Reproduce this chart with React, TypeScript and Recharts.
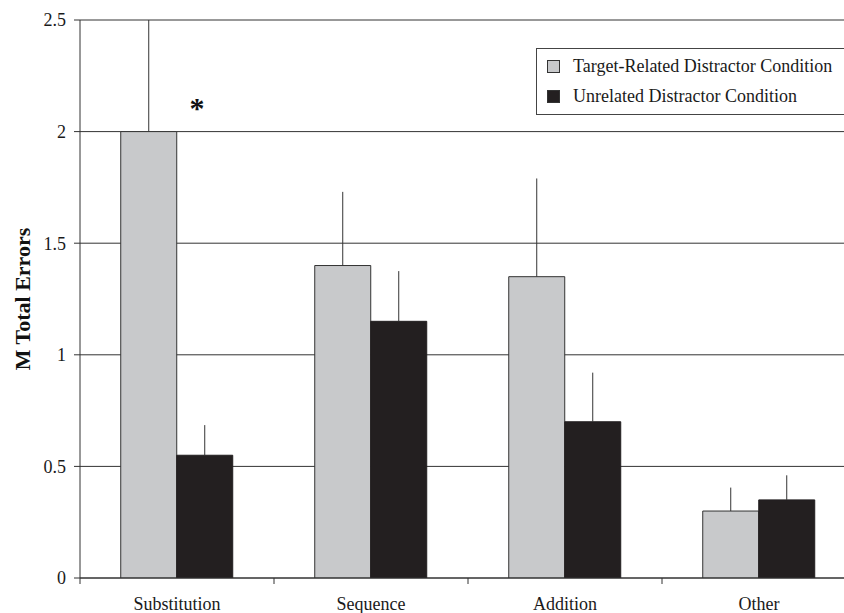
import React from "react";
import { BarChart, Bar, XAxis, YAxis, CartesianGrid, ErrorBar, ReferenceDot } from "recharts";

const categories = ["Substitution", "Sequence", "Addition", "Other"];
const relatedValues = [2.0, 1.4, 1.35, 0.3];
const relatedErrors = [0.5, 0.33, 0.44, 0.105];
const unrelatedValues = [0.55, 1.15, 0.7, 0.35];
const unrelatedErrors = [0.135, 0.225, 0.22, 0.11];
const yTicks = [0, 0.5, 1, 1.5, 2, 2.5];
const seriesNames = ["Target-Related Distractor Condition", "Unrelated Distractor Condition"];

const data = categories.map((c, i) => ({
  name: c,
  related: relatedValues[i],
  relatedErr: [0, relatedErrors[i]],
  unrelated: unrelatedValues[i],
  unrelatedErr: [0, unrelatedErrors[i]],
}));

const FONT = "'Liberation Serif', 'Times New Roman', serif";
const GRAY = "#c8c9cb";
const BLACK = "#231f20";
const LINE = "#333";
const BAND = 194;

const XTick = (props: any) => {
  const { x, y, payload } = props;
  return (
    <g>
      <line x1={x - BAND / 2} x2={x - BAND / 2} y1={y - 8} y2={y - 2} stroke={LINE} />
      <text x={x} y={y + 24} textAnchor="middle" fontFamily={FONT} fontSize={18} fill="#1a1a1a">
        {payload.value}
      </text>
    </g>
  );
};

const LegendBox = () => (
  <div
    style={{
      position: "absolute",
      left: 536,
      top: 48,
      width: 310,
      height: 67,
      border: "1px solid #444",
      background: "#fff",
      padding: "2px 0 0 10px",
      fontFamily: FONT,
      fontSize: 18,
      color: "#1a1a1a",
      boxSizing: "border-box",
      whiteSpace: "nowrap",
    }}
  >
    {[GRAY, BLACK].map((col, i) => (
      <div key={i} style={{ display: "flex", alignItems: "center", height: 30 }}>
        <span
          style={{
            display: "inline-block",
            width: 11,
            height: 11,
            background: col,
            border: "1px solid #333",
            marginRight: 13,
          }}
        />
        <span>{seriesNames[i]}</span>
      </div>
    ))}
  </div>
);

export default function App() {
  return (
    <div style={{ position: "absolute", left: 0, top: 0, width: 844, height: 613, overflow: "hidden", background: "#fff" }}>
      <BarChart
        width={844}
        height={613}
        data={data}
        margin={{ top: 20, right: -12, left: 0, bottom: 0 }}
        barCategoryGap="21%"
        barGap={0}
      >
        <CartesianGrid vertical={false} stroke={LINE} strokeDasharray="" />
        <XAxis
          dataKey="name"
          height={35}
          axisLine={{ stroke: LINE }}
          tickLine={false}
          tick={<XTick />}
          interval={0}
        />
        <YAxis
          width={80}
          domain={[0, 2.5]}
          ticks={yTicks}
          allowDataOverflow
          axisLine={{ stroke: LINE }}
          tickLine={{ stroke: LINE }}
          tickSize={6}
          tickMargin={8}
          tick={{ fontFamily: FONT, fontSize: 18, fill: "#1a1a1a" }}
          tickFormatter={(v: number) => String(v)}
          label={{
            value: "M Total Errors",
            angle: -90,
            position: "insideLeft",
            offset: 22,
            style: { fontFamily: FONT, fontSize: 22, fontWeight: "bold", fill: "#111", textAnchor: "middle" },
          }}
        />
        <Bar dataKey="related" name={seriesNames[0]} fill={GRAY} stroke={LINE} strokeWidth={1} isAnimationActive={false}>
          <ErrorBar dataKey="relatedErr" width={0} stroke={LINE} strokeWidth={1} direction="y" />
        </Bar>
        <Bar dataKey="unrelated" name={seriesNames[1]} fill={BLACK} stroke={BLACK} strokeWidth={1} isAnimationActive={false}>
          <ErrorBar dataKey="unrelatedErr" width={0} stroke={LINE} strokeWidth={1} direction="y" />
        </Bar>
        <ReferenceDot
          x="Substitution"
          y={2.12}
          r={0}
          stroke="none"
          fill="none"
          label={{ value: "*", position: "center", dx: 20, dy: 3, style: { fontFamily: FONT, fontSize: 30, fontWeight: "bold", fill: "#111" } }}
        />
      </BarChart>
      <LegendBox />
    </div>
  );
}
